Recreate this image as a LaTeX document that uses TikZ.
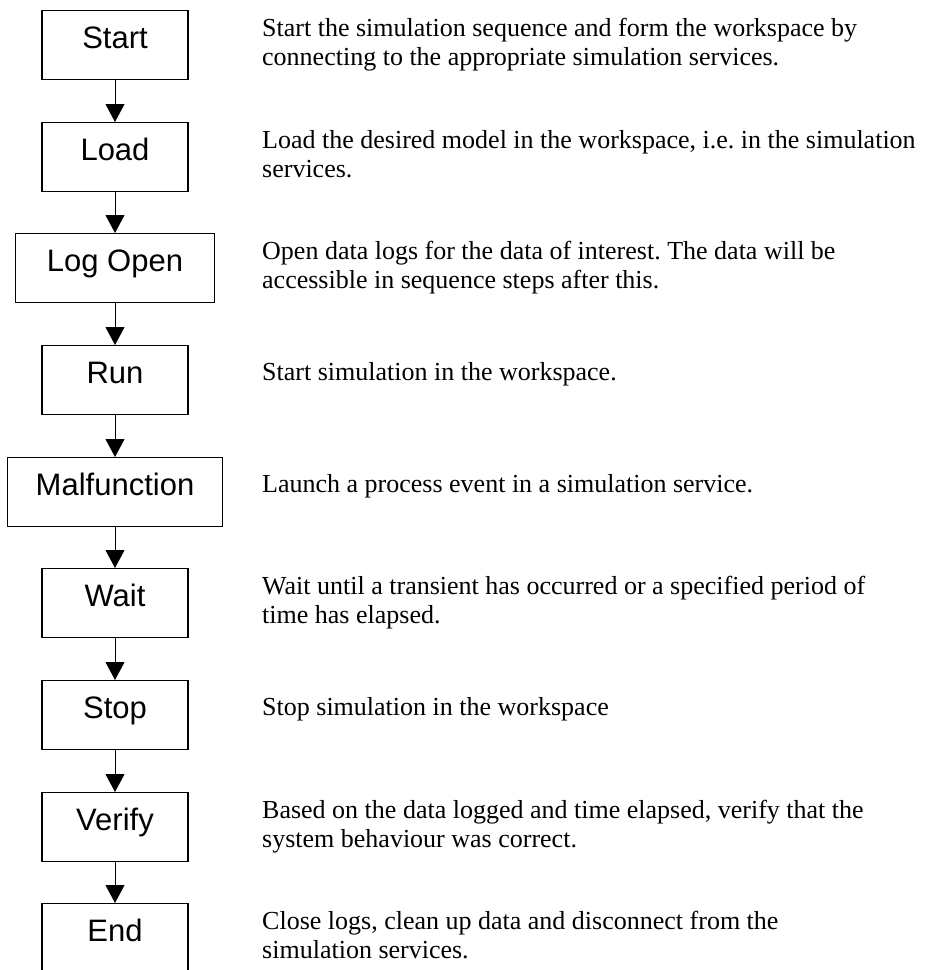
\documentclass[tikz,border=0pt]{standalone}
\usepackage{fontspec}
\setmainfont{Liberation Serif}
\newfontfamily\labelfont{Liberation Sans}
\usetikzlibrary{arrows.meta}
\frenchspacing

\tikzset{
  stepbox/.style={draw, line width=1.3pt, inner xsep=0pt, inner ysep=0pt,
    minimum width=#1, text height=38pt, text depth=31pt,
    anchor=north, font=\labelfont\fontsize{31}{35}\selectfont},
  stepbox/.default=146pt,
  % anchored at the baseline of the last line of the text
  desc/.style={anchor=base west, inner sep=0pt, align=left,
    font=\fontsize{26}{29}\selectfont},
  flow/.style={line width=1pt, -{Triangle[width=19pt,length=18pt]}}
}

\begin{document}
\begin{tikzpicture}[x=1pt, y=-1pt]
  \useasboundingbox (0,0) rectangle (940,970);

  % process steps, top edges of the boxes
  \node[stepbox]        (start)   at (115,10)  {Start};
  \node[stepbox]        (load)    at (115,122) {Load};
  \node[stepbox=199pt]  (logopen) at (115,233) {Log Open};
  \node[stepbox]        (run)     at (115,345) {Run};
  \node[stepbox=215pt]  (malf)    at (115,457) {Malfunction};
  \node[stepbox]        (wait)    at (115,568) {Wait};
  \node[stepbox]        (stop)    at (115,680) {Stop};
  \node[stepbox]        (verify)  at (115,792) {Verify};
  \node[stepbox]        (end)     at (115,903) {End};

  % connectors
  \draw[flow] (start)   -- (load);
  \draw[flow] (load)    -- (logopen);
  \draw[flow] (logopen) -- (run);
  \draw[flow] (run)     -- (malf);
  \draw[flow] (malf)    -- (wait);
  \draw[flow] (wait)    -- (stop);
  \draw[flow] (stop)    -- (verify);
  \draw[flow] (verify)  -- (end);

  % descriptions (two-line texts: first baseline 26 below the box top,
  % second 29 lower; one-line texts sit a little lower)
  \node[desc] (dstart)  at (262,65)  {Start the simulation sequence and form the workspace by\\connecting to the appropriate simulation services.};
  \node[desc] (dload)   at (262,177) {Load the desired model in the workspace, i.e. in the simulation\\services.};
  \node[desc] (dlog)    at (262,288) {Open data logs for the data of interest. The data will be\\accessible in sequence steps after this.};
  \node[desc] (drun)    at (262,380) {Start simulation in the workspace.};
  \node[desc] (dmalf)   at (262,492) {Launch a process event in a simulation service.};
  \node[desc] (dwait)   at (262,623) {Wait until a transient has occurred or a specified period of\\time has elapsed.};
  \node[desc] (dstop)   at (262,715) {Stop simulation in the workspace};
  \node[desc] (dverify) at (262,847) {Based on the data logged and time elapsed, verify that the\\system behaviour was correct.};
  \node[desc] (dend)    at (262,958) {Close logs, clean up data and disconnect from the\\simulation services.};
\end{tikzpicture}
\end{document}
